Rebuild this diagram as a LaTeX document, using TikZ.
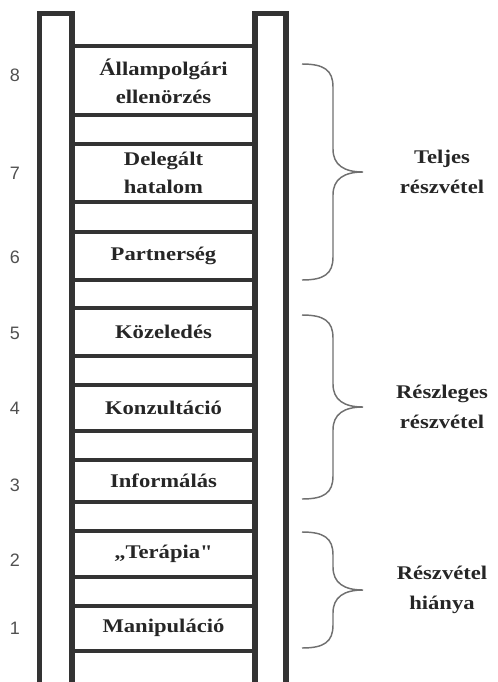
\documentclass[tikz,border=0pt]{standalone}
\usepackage{fontspec}
\setmainfont{Liberation Serif}[FakeStretch=1.17, Ligatures=TeXOff]
\setsansfont{Liberation Sans}
\usepackage{xcolor}

\definecolor{railgray}{HTML}{333333}
\definecolor{textgray}{HTML}{262626}
\definecolor{numgray}{HTML}{505050}
\definecolor{bracegray}{HTML}{707070}

\begin{document}
\begin{tikzpicture}[%
      x=0.75pt, y=-0.75pt,
      rail/.style={draw=railgray, line width=4pt, line join=miter},
      rung/.style={draw=railgray, line width=3pt},
      steptext/.style={font=\bfseries\fontsize{14.5}{21}\selectfont, text=textgray, align=center},
      stepnum/.style={font=\sffamily\fontsize{13.5}{15}\selectfont, text=numgray},
      partbrace/.style={draw=bracegray, line width=1.1pt},
      bracelabel/.style={font=\bfseries\fontsize{14.5}{22}\selectfont, text=textgray, align=center},
      ]
      \useasboundingbox (0,0) rectangle (497,682);
      \clip (0,0) rectangle (497,682);

      % rails
      \draw [rail] (39.5,700) -- (39.5,13.5) -- (72,13.5) -- (72,700);
      \draw [rail] (255,700) -- (255,13.5) -- (286,13.5) -- (286,700);

      % rungs
      \foreach \y in {46,115,144,202,232,280,308,356,385,431,460,502,531,577,606,651}
        \draw [rung] (72,\y) -- (255,\y);

      % steps
      \foreach \n/\y/\txt in {8/81/{Állampolgári\\ellenörzés}, 7/173/{Delegált\\hatalom},
          6/256/Partnerség, 5/332/Közeledés, 4/408/Konzultáció, 3/481/Informálás,
          2/554/{„Terápia"}, 1/628/Manipuláció}
        \node [steptext] (step\n) at (163.5,\y) {\txt};

      \foreach \n/\y in {8/75, 7/173, 6/257, 5/333, 4/408, 3/485, 2/560, 1/628}
        \node [stepnum] (num\n) at (15,\y) {\n};

      % braces
      \foreach \t/\b/\name/\txt in {64/280/teljes/{Teljes\\részvétel},
          315/499/reszleges/{Részleges\\részvétel}, 532/648/hiany/{Részvétel\\hiánya}}
      {
        \pgfmathsetmacro\m{(\t+\b)/2}
        \draw [partbrace] (302,\t) .. controls (324,\t) and (333,{\t+6}) .. (333,{\t+23})
          -- (333,{\m-23}) .. controls (333,{\m-7}) and (344,\m) .. (363,\m)
          .. controls (344,\m) and (333,{\m+7}) .. (333,{\m+23})
          -- (333,{\b-23}) .. controls (333,{\b-6}) and (324,\b) .. (302,\b);
        \node [bracelabel] (\name) at (442,\m) {\txt};
      }
      \end{tikzpicture}
\end{document}
